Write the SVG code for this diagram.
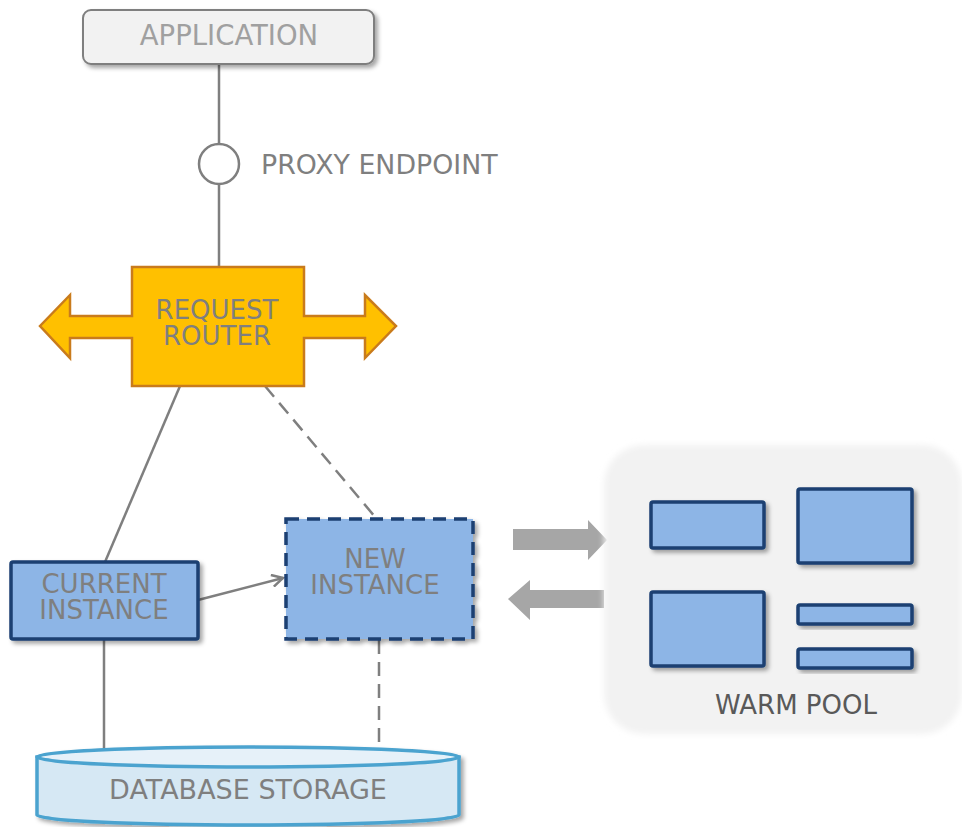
<svg xmlns="http://www.w3.org/2000/svg" width="962" height="827" viewBox="0 0 962 827">
<defs>
<filter id="sh" x="-20%" y="-20%" width="140%" height="150%">
<feDropShadow dx="3" dy="3" stdDeviation="2" flood-color="#000" flood-opacity="0.35"/>
</filter>
<filter id="soft" x="-10%" y="-10%" width="120%" height="120%">
<feGaussianBlur stdDeviation="3"/>
</filter>
<marker id="open" markerWidth="14" markerHeight="14" refX="12" refY="7" orient="auto" markerUnits="userSpaceOnUse">
<path d="M1,1 L12,7 L1,13" fill="none" stroke="#7f7f7f" stroke-width="2.5"/>
</marker>
</defs>
<style>
text{font-family:"DejaVu Sans",Verdana,sans-serif;font-size:26px;fill:#7f7f7f;text-anchor:middle}
.conn{stroke:#7f7f7f;stroke-width:2.5;fill:none}
.dash{stroke-dasharray:14 8}
.inst{fill:#8db5e6;stroke:#1b3f72;stroke-width:3.5}
.pool{fill:#8db5e6;stroke:#1b3f72;stroke-width:3.5}
.big{fill:#a6a6a6}
</style>
<rect x="0" y="0" width="962" height="827" fill="#fff"/>

<g id="connectors">
<line class="conn" x1="219" y1="64" x2="219" y2="144"/>
<line class="conn" x1="219" y1="184" x2="219" y2="268"/>
<line class="conn" x1="180" y1="386" x2="105" y2="562"/>
<line class="conn dash" x1="265" y1="386" x2="376" y2="518"/>
<line class="conn" x1="198" y1="600" x2="283" y2="578" marker-end="url(#open)"/>
<line class="conn" x1="104" y1="639" x2="104" y2="750"/>
<line class="conn dash" x1="379" y1="640" x2="379" y2="750"/>
<polygon class="big" points="513,529 588,529 588,520 607,540 588,560 588,550 513,550"/>
<polygon class="big" points="604,590 530,590 530,580 508,599 530,620 530,608 604,608"/>
</g>

<g id="application">
<rect x="83" y="10" width="291" height="54" rx="8" fill="#f2f2f2" stroke="#7f7f7f" stroke-width="2" filter="url(#sh)"/>
<text x="229" y="45" style="fill:#a0a0a0;font-size:27.5px">APPLICATION</text>
</g>

<g id="proxy-endpoint">
<circle cx="219" cy="164" r="20" fill="#fff" stroke="#7f7f7f" stroke-width="2.5"/>
<text x="261" y="174" style="text-anchor:start;font-size:26.8px">PROXY ENDPOINT</text>
</g>

<g id="request-router">
<polygon points="40,326 70,295 70,316 132,316 132,267 304,267 304,316 365,316 365,295 396,326 365,358 365,338 304,338 304,386 132,386 132,338 70,338 70,358" fill="#ffc000" stroke="#c97b1c" stroke-width="2.5" stroke-linejoin="miter"/>
<text x="217" y="319">REQUEST<tspan x="217" dy="26">ROUTER</tspan></text>
</g>

<g id="current-instance">
<rect class="inst" x="11" y="562" width="187" height="77" rx="2" filter="url(#sh)"/>
<text x="104" y="593">CURRENT<tspan x="104" dy="26">INSTANCE</tspan></text>
</g>

<g id="new-instance">
<rect class="inst" x="286" y="519" width="187" height="120" style="stroke-dasharray:13 8" filter="url(#sh)"/>
<text x="375" y="568">NEW<tspan x="375" dy="26">INSTANCE</tspan></text>
</g>

<g id="database-storage">
<g filter="url(#sh)">
<path d="M37,757 L37,815 A211,10 0 0 0 459,815 L459,757 Z" fill="#d6e8f4" stroke="#4ba3cf" stroke-width="3.5"/>
<ellipse cx="248" cy="757" rx="211" ry="10" fill="#e6f1f9" stroke="#4ba3cf" stroke-width="3.5"/>
</g>
<text x="248" y="799" style="font-size:27px">DATABASE STORAGE</text>
</g>

<g id="warm-pool">
<rect x="604" y="445" width="358" height="289" rx="40" fill="#f2f2f2" filter="url(#soft)"/>
<rect class="pool" x="651" y="502" width="113" height="46" rx="2" filter="url(#sh)"/>
<rect class="pool" x="798" y="489" width="114" height="74" rx="2" filter="url(#sh)"/>
<rect class="pool" x="651" y="592" width="113" height="74" rx="2" filter="url(#sh)"/>
<rect class="pool" x="798" y="605" width="114" height="19" rx="2" filter="url(#sh)"/>
<rect class="pool" x="798" y="649" width="114" height="19" rx="2" filter="url(#sh)"/>
<text x="796" y="714" style="fill:#595959">WARM POOL</text>
</g>
</svg>
